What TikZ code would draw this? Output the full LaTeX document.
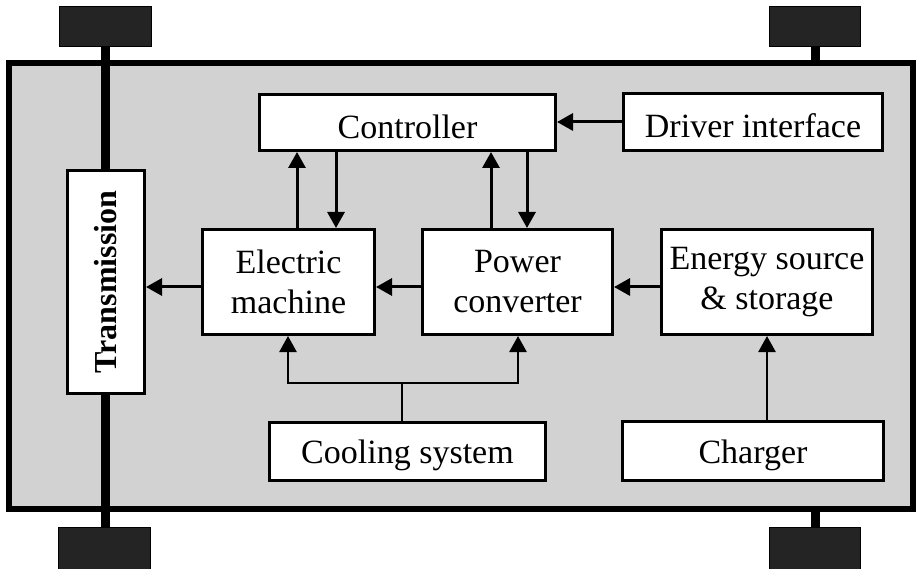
\documentclass[tikz,border=0pt]{standalone}
\usepackage{fontspec}
\setmainfont{Liberation Serif}
\usetikzlibrary{arrows.meta}
\definecolor{chassis}{RGB}{210,210,210}
\definecolor{wheelc}{RGB}{36,36,36}
\newcommand{\lowtext}[1]{\raisebox{-4pt}[\height][\depth]{#1}}
\begin{document}
\begin{tikzpicture}[x=1pt,y=-1pt,
  blk/.style={draw=black,line width=3pt,fill=white,inner sep=0pt,align=center,
    font=\fontsize{34}{40}\selectfont},
  arr/.style={line width=3pt,-{Triangle[length=16pt,width=17pt]}},
  thin arr/.style={line width=2.5pt,-{Triangle[length=16pt,width=17pt]}},
  wheel/.style={draw=black,line width=1pt,fill=wheelc},
  axle/.style={line width=9pt,draw=black}]
\useasboundingbox (0,0) rectangle (918,569);
% chassis
\draw[line width=6pt,fill=chassis] (9,63) rectangle (913,509);
% wheels
\draw[wheel] (59,7) rectangle (151,47);
\draw[wheel] (58,527) rectangle (150,569);
\draw[wheel] (769,7) rectangle (860,47);
\draw[wheel] (769,527) rectangle (860,569);
% axles
\coordinate (la1) at (105.5,47);
\coordinate (la2) at (105.5,527);
\draw[axle] (la1) -- (la2);
\coordinate (ra1) at (815.5,47);
\coordinate (ra2) at (815.5,63);
\coordinate (ra3) at (815.5,509);
\coordinate (ra4) at (815.5,527);
\draw[axle] (ra1) -- (ra2);
\draw[axle] (ra3) -- (ra4);
% blocks
\node[blk,minimum width=296pt,minimum height=56pt] (ctrl) at (407.5,122.5) {\lowtext{Controller}};
\node[blk,minimum width=259pt,minimum height=57pt] (drv) at (753,122) {\lowtext{Driver interface}};
\node[blk,minimum width=172pt,minimum height=105pt] (em) at (288.5,282) {Electric\\machine};
\node[blk,minimum width=190pt,minimum height=105pt] (pc) at (517.5,282) {Power\\converter};
\node[blk,minimum width=211pt,minimum height=105pt] (es) at (767,282) {Energy source\\\& storage};
\node[blk,minimum width=276pt,minimum height=58pt] (cool) at (407.5,451.5) {\lowtext{Cooling system}};
\node[blk,minimum width=261pt,minimum height=59pt] (chg) at (753,451) {\lowtext{Charger}};
\node[blk,minimum width=77pt,minimum height=223pt] (tr) at (106,282) {};
\node[rotate=90,font=\fontsize{32}{36}\selectfont\bfseries] (trl) at (tr.center) {Transmission};
% connectors
\draw[arr] (drv.west |- 0,122) -- (ctrl.east |- 0,122);
\draw[arr] (em.north -| 297,0) -- (ctrl.south -| 297,0);
\draw[arr] (ctrl.south -| 336,0) -- (em.north -| 336,0);
\draw[arr] (pc.north -| 491,0) -- (ctrl.south -| 491,0);
\draw[arr] (ctrl.south -| 527,0) -- (pc.north -| 527,0);
\draw[arr] (em.west |- 0,287) -- (tr.east |- 0,287);
\draw[arr] (pc.west |- 0,287) -- (em.east |- 0,287);
\draw[arr] (es.west |- 0,287) -- (pc.east |- 0,287);
\draw[thin arr] (chg.north -| 767,0) -- (es.south -| 767,0);
\coordinate (cj) at (402,383);
\draw[line width=2.5pt] (cool.north -| cj) -- (cj);
\draw[thin arr] (cj) -| (em.south -| 288,0);
\draw[thin arr] (cj) -| (pc.south -| 518,0);
\end{tikzpicture}
\end{document}
